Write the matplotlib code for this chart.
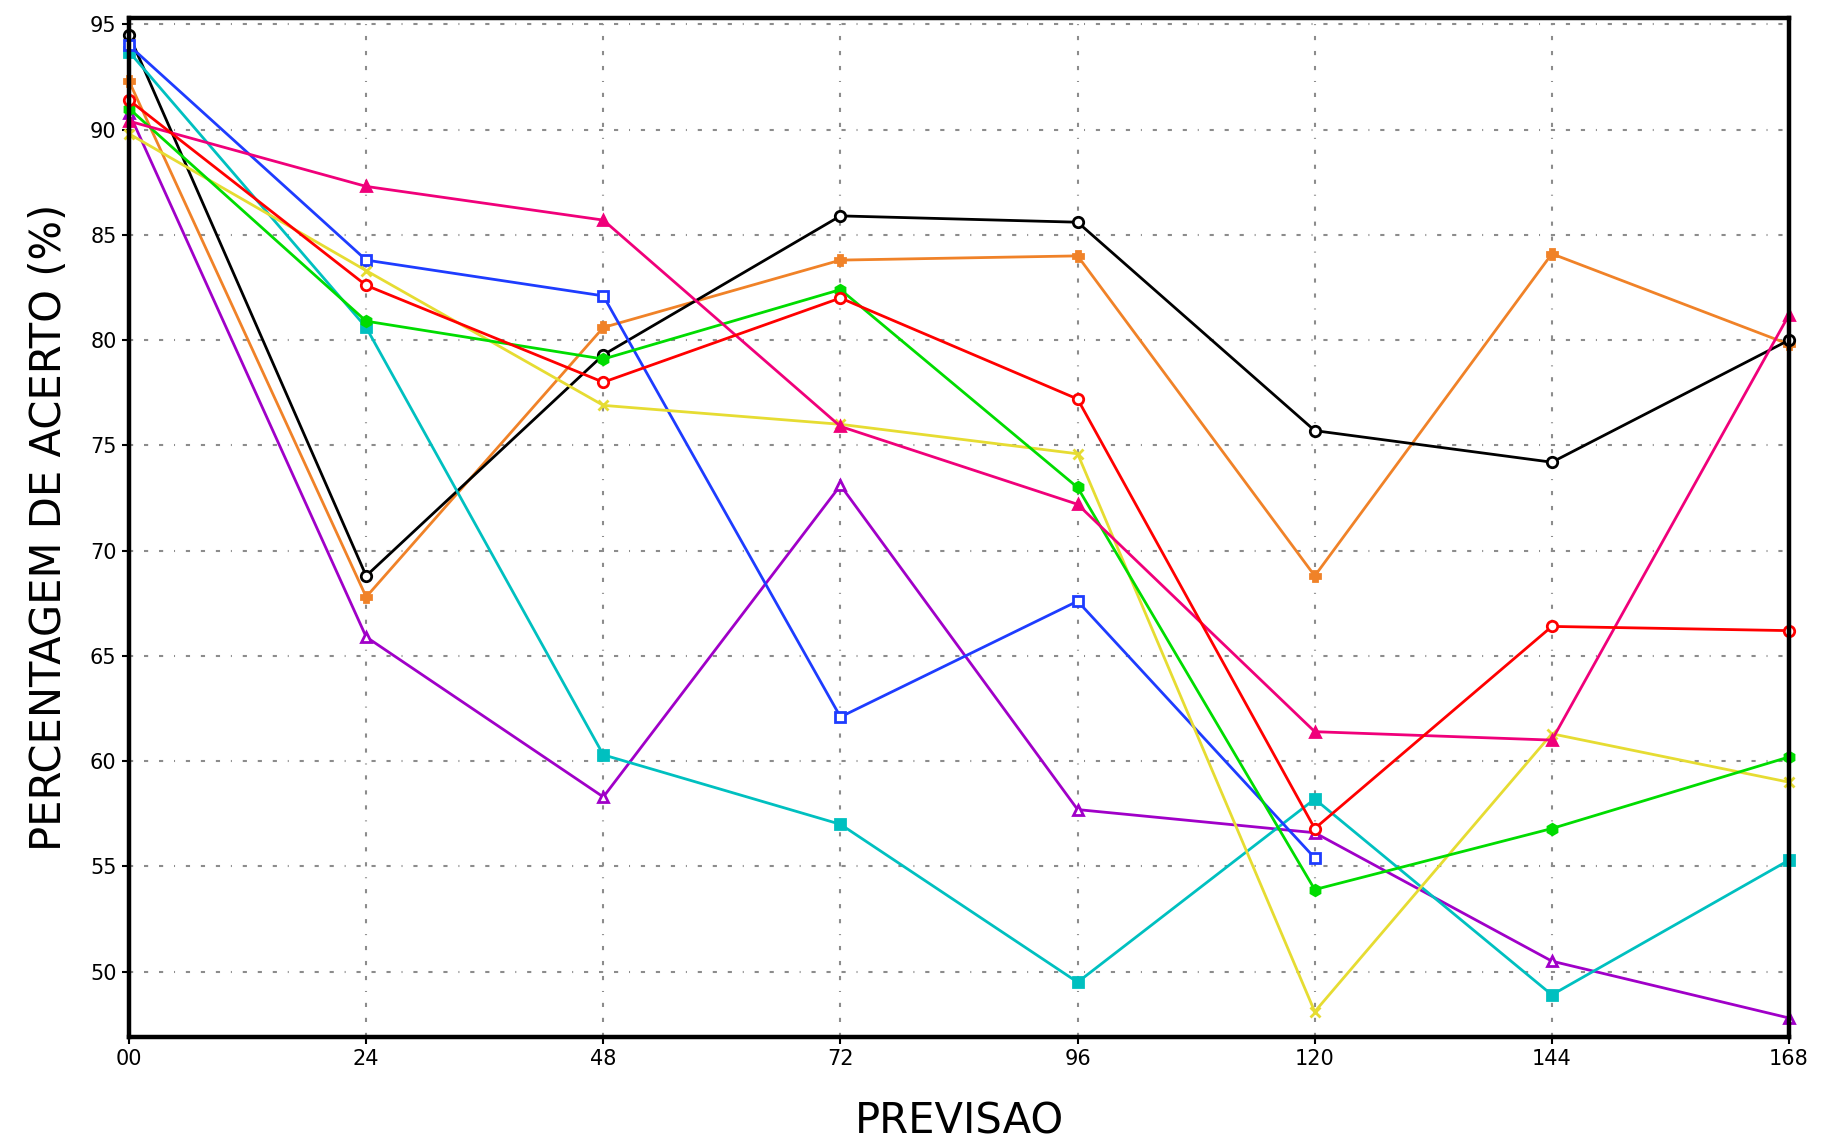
import matplotlib
matplotlib.use("Agg")
import matplotlib.pyplot as plt
import numpy as np

# ---- data ----
hours = [0, 24, 48, 72, 96, 120, 144, 168]
xtick_labels = ["00", "24", "48", "72", "96", "120", "144", "168"]
yticks = [50, 55, 60, 65, 70, 75, 80, 85, 90, 95]

black = [94.5, 68.8, 79.3, 85.9, 85.6, 75.7, 74.2, 80.0]
orange = [92.3, 67.8, 80.6, 83.8, 84.0, 68.8, 84.1, 79.8]
green = [91.0, 80.9, 79.1, 82.4, 73.0, 53.9, 56.8, 60.2]
red = [91.4, 82.6, 78.0, 82.0, 77.2, 56.8, 66.4, 66.2]
blue = [94.0, 83.8, 82.1, 62.1, 67.6, 55.4, np.nan, np.nan]
cyan = [93.7, 80.6, 60.3, 57.0, 49.5, 58.2, 48.9, 55.3]
yellow = [89.8, 83.3, 76.9, 76.0, 74.6, 48.1, 61.3, 59.0]
crimson = [90.4, 87.3, 85.7, 75.9, 72.2, 61.4, 61.0, 81.2]
purple = [90.8, 65.9, 58.3, 73.1, 57.7, 56.6, 50.5, 47.8]

series = [
    (purple, "#a000c8", "^", "none"),
    (orange, "#f08228", "P", "full"),
    (black, "#000000", "o", "none"),
    (cyan, "#00c0c0", "s", "full"),
    (blue, "#1e3cff", "s", "none"),
    (yellow, "#e6dc32", "x", "full"),
    (green, "#00dc00", "h", "full"),
    (crimson, "#f0007a", "^", "full"),
    (red, "#ff0000", "o", "none"),
]

fig = plt.figure(figsize=(18.25, 11.39), dpi=100)
ax = fig.add_axes([0.0707, 0.0896, 0.9096, 0.8946])

grid_ls = (0, (2, 5.2, 2, 5.2, 2, 5.2, 0.5, 5.2))
for y in yticks:
    ax.axhline(y, color="#8c8c8c", lw=1.5, ls=grid_ls, zorder=1)
for x in hours[1:-1]:
    ax.axvline(x, color="#8c8c8c", lw=1.5, ls=grid_ls, zorder=1)

for vals, col, mk, fill in series:
    kw = dict(color=col, lw=2.0, marker=mk, ms=7.5, mew=2, zorder=3, clip_on=False)
    if fill == "none":
        kw["markerfacecolor"] = "white"
    ax.plot(hours, vals, **kw)

ax.set_xlim(0, 168)
ax.set_ylim(46.9, 95.3)
ax.set_xticks(hours)
ax.set_xticklabels(xtick_labels)
ax.set_yticks(yticks)
ax.set_yticklabels([str(v) for v in yticks])

for sp in ax.spines.values():
    sp.set_linewidth(3.2)
    sp.set_color("black")
    sp.set_zorder(5)

ax.tick_params(axis="both", direction="out", length=5, width=1.5, labelsize=15, pad=4)

ax.set_xlabel("PREVISAO", fontsize=30, labelpad=22)
ax.set_ylabel("PERCENTAGEM DE ACERTO (%)", fontsize=30, labelpad=14)

fig.savefig("out.png", dpi=100)
